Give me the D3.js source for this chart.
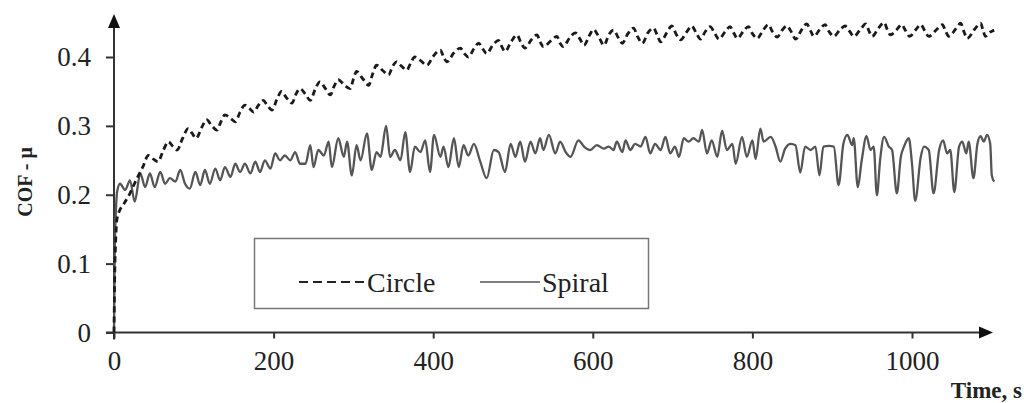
<!DOCTYPE html>
<html>
<head>
<meta charset="utf-8">
<script src="https://cdn.jsdelivr.net/npm/d3@7"></script>
<style>
  html, body { margin: 0; padding: 0; background: #fff; }
  svg { display: block; }
  text { font-family: "Liberation Serif", "Times New Roman", serif; fill: #222; }
</style>
</head>
<body>
<svg id="chart" width="1024" height="403"></svg>
<script>
// Axis ticks
const xTicks = [0, 200, 400, 600, 800, 1000];
const yTicks = [0, 0.1, 0.2, 0.3, 0.4];

// Coefficient of friction, circular path (time in s)
const circleTime = [0,1,2,3.5,7,12,20,28,36,43,49,55,62,68,74,79,86,93,98,103,110,116,122,129,134,139,146,152,158,164,170,175,181,187,192,198,204,210,216,223,228,233,240,246,252,258,265,271,276,281,288,296,300,304,312,319,324,329,337,344,349,354,360,367,372,377,385,392,400,409,413,417,426,434,439,444,451,457,462,467,475,482,486,490,498,505,510,515,523,530,534,538,547,555,559,563,571,578,584,589,596,601,608,614,620,626,632,637,644,651,656,662,669,676,681,685,693,699,705,710,718,724,730,735,741,747,753,758,766,772,777,781,789,795,800,806,814,820,825,831,838,843,849,854,862,868,873,877,885,891,896,902,910,916,922,927,936,942,946,950,958,965,969,973,981,987,992,997,1005,1011,1016,1021,1031,1038,1042,1046,1055,1061,1065,1069,1079,1086,1089,1092,1098,1103];
const circleCof = [0,0.09,0.13,0.163,0.177,0.186,0.202,0.222,0.240,0.257,0.252,0.248,0.265,0.277,0.270,0.265,0.282,0.296,0.289,0.282,0.298,0.309,0.301,0.294,0.306,0.316,0.311,0.306,0.320,0.330,0.325,0.320,0.330,0.337,0.330,0.323,0.338,0.350,0.341,0.333,0.346,0.354,0.346,0.337,0.353,0.364,0.354,0.345,0.358,0.367,0.360,0.354,0.368,0.379,0.368,0.359,0.375,0.388,0.380,0.374,0.386,0.393,0.387,0.381,0.392,0.400,0.394,0.388,0.401,0.410,0.400,0.393,0.406,0.413,0.405,0.400,0.412,0.420,0.412,0.405,0.418,0.424,0.415,0.408,0.423,0.432,0.421,0.413,0.425,0.432,0.422,0.415,0.423,0.430,0.420,0.415,0.428,0.435,0.426,0.417,0.432,0.440,0.428,0.417,0.432,0.439,0.428,0.420,0.434,0.442,0.430,0.420,0.435,0.442,0.431,0.422,0.436,0.445,0.432,0.425,0.437,0.445,0.434,0.426,0.437,0.444,0.434,0.426,0.437,0.444,0.434,0.427,0.438,0.444,0.434,0.427,0.440,0.447,0.437,0.429,0.440,0.445,0.436,0.426,0.440,0.448,0.438,0.430,0.441,0.447,0.437,0.430,0.440,0.445,0.437,0.430,0.441,0.448,0.438,0.430,0.442,0.450,0.440,0.432,0.440,0.447,0.438,0.430,0.440,0.447,0.438,0.430,0.440,0.447,0.438,0.430,0.441,0.449,0.437,0.427,0.441,0.449,0.439,0.430,0.436,0.439];

// Coefficient of friction, spiral path (time in s)
const spiralTime = [0,1,2.5,4,7.5,14,20,26,33,39,45,51,58,64,70,77,83,89,95,102,108,114,120,127,133,139,146,152,158,164,171,177,183,189,196,202,208,214,221,227,233,240,246,250,256,263,269,273,281,288,292,298,304,309,317,323,329,334,341,346,352,359,365,371,377,384,390,396,401,409,413,419,426,432,438,444,451,459,467,476,482,490,497,503,509,515,522,528,534,538,545,553,559,566,572,582,589,597,605,614,620,626,630,637,641,647,653,660,666,672,678,685,691,697,703,708,714,720,726,733,737,743,749,756,762,768,775,779,787,793,800,804,810,814,823,829,835,841,848,854,860,866,873,879,884,889,896,902,908,914,919,925,927,932,937,943,948,952,956,960,965,971,975,981,986,990,996,1000,1004,1011,1015,1021,1027,1034,1039,1044,1048,1053,1059,1063,1068,1071,1077,1082,1086,1090,1094,1098,1100,1103];
const spiralCof = [0,0.12,0.18,0.205,0.216,0.207,0.221,0.190,0.231,0.211,0.231,0.211,0.233,0.216,0.224,0.219,0.236,0.216,0.209,0.233,0.214,0.236,0.216,0.238,0.221,0.240,0.226,0.245,0.233,0.245,0.231,0.248,0.233,0.250,0.238,0.260,0.250,0.257,0.250,0.262,0.245,0.245,0.272,0.240,0.265,0.257,0.277,0.240,0.282,0.255,0.277,0.228,0.272,0.250,0.289,0.236,0.262,0.255,0.300,0.255,0.265,0.250,0.291,0.233,0.270,0.262,0.279,0.233,0.287,0.255,0.270,0.240,0.282,0.240,0.272,0.257,0.274,0.248,0.224,0.265,0.262,0.233,0.274,0.255,0.277,0.248,0.277,0.260,0.282,0.265,0.287,0.260,0.277,0.262,0.255,0.279,0.270,0.265,0.272,0.267,0.270,0.265,0.277,0.262,0.279,0.265,0.274,0.270,0.284,0.260,0.274,0.265,0.284,0.260,0.270,0.255,0.282,0.277,0.282,0.277,0.294,0.260,0.279,0.255,0.293,0.265,0.274,0.245,0.284,0.255,0.279,0.252,0.296,0.277,0.284,0.270,0.248,0.267,0.274,0.272,0.232,0.270,0.265,0.270,0.228,0.270,0.271,0.270,0.214,0.274,0.287,0.272,0.282,0.211,0.250,0.285,0.265,0.270,0.199,0.250,0.284,0.270,0.265,0.202,0.255,0.270,0.282,0.245,0.191,0.255,0.270,0.265,0.202,0.265,0.279,0.260,0.265,0.204,0.270,0.277,0.260,0.277,0.224,0.274,0.285,0.277,0.287,0.274,0.228,0.219];

const legendItems = ["Circle", "Spiral"];

const svg = d3.select("#chart");

const x = d3.scaleLinear().domain([0, 1000]).range([114, 912]);
const y = d3.scaleLinear().domain([0, 0.4]).range([332.5, 57]);

const axisColor = "#333";

// y axis ticks and labels
const yAxis = svg.append("g")
  .attr("transform", `translate(${x(0)},0)`)
  .call(d3.axisLeft(y).tickValues(yTicks).tickSize(8).tickSizeOuter(0)
    .tickFormat(d => String(d)).tickPadding(15));
yAxis.select(".domain").remove();
yAxis.selectAll(".tick line").attr("stroke", axisColor).attr("stroke-width", 2);
yAxis.selectAll(".tick text")
  .attr("font-family", "Liberation Serif, serif")
  .attr("font-size", 27).attr("fill", "#222");

// x axis ticks and labels
const xAxis = svg.append("g")
  .attr("transform", `translate(0,${y(0)})`)
  .call(d3.axisBottom(x).tickValues(xTicks).tickSize(6).tickSizeOuter(0)
    .tickFormat(d => String(d)).tickPadding(12));
xAxis.select(".domain").remove();
xAxis.selectAll(".tick line").attr("stroke", axisColor).attr("stroke-width", 2);
xAxis.selectAll(".tick text")
  .attr("font-family", "Liberation Serif, serif")
  .attr("font-size", 27).attr("fill", "#222");

// axis lines with arrowheads
svg.append("line")
  .attr("x1", x(0)).attr("y1", y(0) + 7)
  .attr("x2", x(0)).attr("y2", 26)
  .attr("stroke", axisColor).attr("stroke-width", 2);
svg.append("path")
  .attr("d", `M${x(0)},14 L${x(0) - 6},28 L${x(0) + 6},28 Z`)
  .attr("fill", "#111");
svg.append("line")
  .attr("x1", x(0) - 8).attr("y1", y(0))
  .attr("x2", 982).attr("y2", y(0))
  .attr("stroke", axisColor).attr("stroke-width", 2);
svg.append("path")
  .attr("d", `M993,${y(0)} L979,${y(0) - 6} L979,${y(0) + 6} Z`)
  .attr("fill", "#111");

// axis titles
svg.append("text")
  .attr("transform", "translate(32,182) rotate(-90)")
  .attr("text-anchor", "middle")
  .attr("font-weight", "bold")
  .attr("font-size", 20)
  .text("COF - μ");
svg.append("text")
  .attr("x", 1022).attr("y", 398)
  .attr("text-anchor", "end")
  .attr("font-weight", "bold")
  .attr("font-size", 23)
  .text("Time, s");

// series
const lineGen = d3.line()
  .x(d => x(d[0]))
  .y(d => y(d[1]))
  .curve(d3.curveMonotoneX);

const spiralData = spiralTime.map((t, i) => [t, spiralCof[i]]);
const circleData = circleTime.map((t, i) => [t, circleCof[i]]);

svg.append("path")
  .datum(spiralData)
  .attr("d", lineGen)
  .attr("fill", "none")
  .attr("stroke", "#555")
  .attr("stroke-width", 2.3)
  .attr("stroke-linejoin", "round");

svg.append("path")
  .datum(circleData)
  .attr("d", lineGen)
  .attr("fill", "none")
  .attr("stroke", "#1a1a1a")
  .attr("stroke-width", 2.8)
  .attr("stroke-dasharray", "6,4");

// legend
const legend = svg.append("g");
legend.append("rect")
  .attr("x", 254.5).attr("y", 238.5)
  .attr("width", 394).attr("height", 70)
  .attr("fill", "#fff")
  .attr("stroke", "#777").attr("stroke-width", 1.5);

legend.append("line")
  .attr("x1", 299).attr("y1", 282).attr("x2", 365).attr("y2", 282)
  .attr("stroke", "#222").attr("stroke-width", 2)
  .attr("stroke-dasharray", "9,5");
legend.append("text")
  .attr("x", 367).attr("y", 292)
  .attr("font-size", 28)
  .text(legendItems[0]);

legend.append("line")
  .attr("x1", 480).attr("y1", 282).attr("x2", 540).attr("y2", 282)
  .attr("stroke", "#555").attr("stroke-width", 1.5);
legend.append("text")
  .attr("x", 542).attr("y", 292)
  .attr("font-size", 28)
  .text(legendItems[1]);
</script>
</body>
</html>
